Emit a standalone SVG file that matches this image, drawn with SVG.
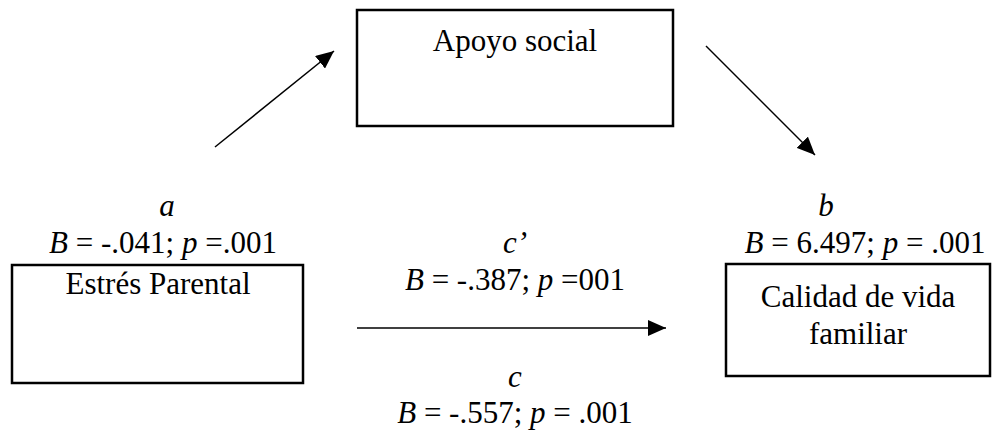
<svg xmlns="http://www.w3.org/2000/svg" width="995" height="438" viewBox="0 0 995 438">
<defs>
<style>
text{font-family:"Liberation Serif","Times New Roman",serif;font-size:31px;fill:#000;text-anchor:middle}
.i{font-style:italic}
.box{fill:#fff;stroke:#000;stroke-width:2.5}
.con{stroke:#000;stroke-width:1.5;fill:none}
</style>
<marker id="ah" viewBox="0 0 18 16" refX="18" refY="8" markerWidth="18" markerHeight="16" markerUnits="userSpaceOnUse" orient="auto">
<path d="M0,0 L18,8 L0,16 z" fill="#000"/>
</marker>
</defs>
<rect width="995" height="438" fill="#fff"/>
<g id="connectors">
<line class="con" x1="215" y1="147" x2="334" y2="51" marker-end="url(#ah)"/>
<line class="con" x1="706" y1="46" x2="815" y2="155" marker-end="url(#ah)"/>
<line class="con" x1="357" y1="328" x2="666" y2="328" marker-end="url(#ah)"/>
</g>
<g id="node-apoyo">
<rect class="box" x="357" y="10" width="316" height="116"/>
<text x="515" y="51">Apoyo social</text>
</g>
<g id="node-estres">
<rect class="box" x="12" y="265" width="291" height="118"/>
<text x="158" y="294">Estrés Parental</text>
</g>
<g id="node-calidad">
<rect class="box" x="726" y="264" width="264" height="112"/>
<text x="858" y="307">Calidad de vida</text>
<text x="858" y="344">familiar</text>
</g>
<g id="labels">
<text class="i" x="167" y="216">a</text>
<text x="163" y="253" xml:space="preserve"><tspan class="i">B</tspan> = -.041; <tspan class="i">p</tspan> =.001</text>
<text class="i" x="515" y="253">c’</text>
<text x="515" y="290" xml:space="preserve"><tspan class="i">B</tspan> = -.387; <tspan class="i">p</tspan> =001</text>
<text class="i" x="826" y="216">b</text>
<text x="865" y="253" xml:space="preserve"><tspan class="i">B</tspan> = 6.497; <tspan class="i">p</tspan> = .001</text>
<text class="i" x="515" y="387">c</text>
<text x="515" y="423" xml:space="preserve"><tspan class="i">B</tspan> = -.557; <tspan class="i">p</tspan> = .001</text>
</g>
</svg>
